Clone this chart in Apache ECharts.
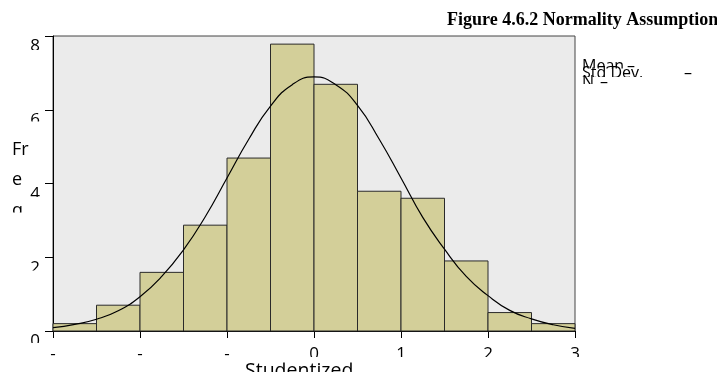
<!DOCTYPE html>
<html>
<head>
<meta charset="utf-8">
<script src="https://cdn.jsdelivr.net/npm/echarts@6/dist/echarts.min.js"></script>
<style>
  html, body { margin: 0; padding: 0; background: #ffffff; }
  #chart { width: 717px; height: 377px; }
</style>
</head>
<body>
<div id="chart"></div>
<script>
// ---- data ----
const binLeft  = [-3, -2.5, -2, -1.5, -1, -0.5, 0, 0.5, 1, 1.5, 2, 2.5];
const binRight = [-2.5, -2, -1.5, -1, -0.5, 0, 0.5, 1, 1.5, 2, 2.5, 3];
const binCount = [0.2, 0.7, 1.59, 2.87, 4.69, 7.78, 6.69, 3.79, 3.6, 1.9, 0.5, 0.2];

const curveX = [-3, -2.75, -2.5, -2.25, -2, -1.75, -1.5, -1.25, -1, -0.75, -0.5, -0.25, 0,
                0.25, 0.5, 0.75, 1, 1.25, 1.5, 1.75, 2, 2.25, 2.5, 2.75, 3];
const curveY = [0.09, 0.18, 0.32, 0.55, 0.93, 1.48, 2.2, 3.1, 4.15, 5.2, 6.1, 6.68, 6.89,
                6.68, 6.12, 5.2, 4.15, 3.08, 2.22, 1.48, 0.96, 0.56, 0.33, 0.17, 0.07];

const xTickValues = [-3, -2, -1, 0, 1, 2, 3];
const xTickLabels = ['-', '-', '-', '0', '1', '2', '3'];
const yTickValues = [0, 2, 4, 6, 8];
const yTickLabels = ['0', '2', '4', '6', '8'];

const titleText = 'Figure 4.6.2 Normality Assumption';
const xAxisTitle = 'Studentized';
const yAxisTitleParts = ['Fr', 'e', 'q'];
const legendNames = ['Mean', 'Std Dev.', 'N'];
const legendSign = '\u2013';

// ---- chart ----
const chart = echarts.init(document.getElementById('chart'), null, { renderer: 'canvas' });

const barData = binLeft.map((l, i) => [l, binRight[i], binCount[i]]);
const lineData = curveX.map((x, i) => [x, curveY[i]]);

const sansFont = '"Open Sans", "Noto Sans", sans-serif';

const graphics = [];
// title
graphics.push({
  type: 'text', left: 447, top: 11, z: 100,
  style: { text: titleText, font: 'bold 18px "Liberation Serif", "Times New Roman", serif', fill: '#000' }
});
// x axis title
graphics.push({
  type: 'text', left: 245, top: 361.5, z: 100,
  style: { text: xAxisTitle, font: '19.5px ' + sansFont, fill: '#000' }
});
// y axis title pieces (text box is clipped in the reference)
const yTitleTops = [141, 171, 201.5];
yAxisTitleParts.forEach((t, i) => {
  graphics.push({
    type: 'text', left: 12, top: yTitleTops[i], z: 100,
    style: { text: t, font: '18px ' + sansFont, fill: '#000' }
  });
});
graphics.push({ type: 'rect', left: 0, top: 212.5, z: 110, shape: { width: 26, height: 30 }, style: { fill: '#fff' } });
// clip masks for y tick labels
const yLabelCut = [12, 13.3, 13.4, 11.7, 14];
yTickValues.forEach((v, i) => {
  const y = 331 - v * (295 / 8);
  graphics.push({ type: 'rect', left: 26, top: y + yLabelCut[i], z: 110,
    shape: { width: 20, height: 16 }, style: { fill: '#fff' } });
});
// clip mask for x tick labels
graphics.push({ type: 'rect', left: 26, top: 357, z: 110, shape: { width: 600, height: 5.5 }, style: { fill: '#fff' } });
// clip mask for x axis title
graphics.push({ type: 'rect', left: 200, top: 372, z: 110, shape: { width: 220, height: 10 }, style: { fill: '#fff' } });

// legend lines, each clipped by the next
const legTops = [58, 65.5, 74];
const legCuts = [68.5, 77, 84];
const legSignX = [627, 684, 600];
legendNames.forEach((t, i) => {
  graphics.push({
    type: 'text', left: 582, top: legTops[i], z: 120 + i * 2,
    style: { text: t, font: '16px ' + sansFont, fill: '#000' }
  });
  graphics.push({
    type: 'text', left: legSignX[i], top: legTops[i], z: 120 + i * 2,
    style: { text: legendSign, font: '16px ' + sansFont, fill: '#000' }
  });
  graphics.push({
    type: 'rect', left: 578, top: legCuts[i], z: 121 + i * 2,
    shape: { width: 139, height: 12 }, style: { fill: '#fff' }
  });
});

const option = {
  animation: false,
  backgroundColor: '#ffffff',
  grid: {
    left: 53, right: 142, top: 36, bottom: 46,
    show: true, backgroundColor: '#EBEBEB', borderColor: '#444', borderWidth: 1
  },
  xAxis: {
    type: 'value', min: -3, max: 3, interval: 1,
    axisLine: { show: true, onZero: false, lineStyle: { color: '#000', width: 1 } },
    axisTick: { show: true, length: 7, lineStyle: { color: '#000' } },
    splitLine: { show: false },
    axisLabel: {
      margin: 14.5, verticalAlign: 'top',
      fontFamily: sansFont, fontSize: 17, color: '#000',
      formatter: (v) => { const k = xTickValues.indexOf(v); return k >= 0 ? xTickLabels[k] : ''; }
    }
  },
  yAxis: {
    type: 'value', min: 0, max: 8, interval: 2,
    axisLine: { show: true, onZero: false, lineStyle: { color: '#000', width: 1 } },
    axisTick: { show: true, length: 8, lineStyle: { color: '#000' } },
    splitLine: { show: false },
    axisLabel: {
      margin: 13, verticalAlign: 'top', padding: [2, 0, 0, 0],
      fontFamily: sansFont, fontSize: 17, color: '#000',
      formatter: (v) => { const k = yTickValues.indexOf(v); return k >= 0 ? yTickLabels[k] : ''; }
    }
  },
  series: [
    {
      type: 'custom',
      data: barData,
      encode: { x: [0, 1], y: 2 },
      z: 2,
      renderItem: (params, api) => {
        const p0 = api.coord([api.value(0), api.value(2)]);
        const p1 = api.coord([api.value(1), 0]);
        return {
          type: 'rect',
          shape: { x: p0[0], y: p0[1], width: p1[0] - p0[0], height: p1[1] - p0[1] },
          style: { fill: '#D3CF99', stroke: '#2a2a2a', lineWidth: 1 }
        };
      }
    },
    {
      type: 'line',
      data: lineData,
      smooth: true,
      showSymbol: false,
      z: 3,
      lineStyle: { color: '#000', width: 1.2 }
    }
  ],
  graphic: graphics
};

chart.setOption(option);
</script>
</body>
</html>
